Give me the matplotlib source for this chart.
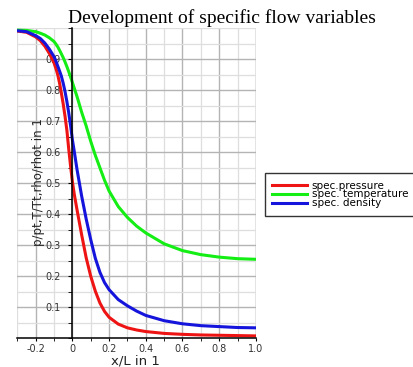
import numpy as np
import matplotlib
matplotlib.use('Agg')
import matplotlib.pyplot as plt
from matplotlib.ticker import MultipleLocator, FixedLocator, FuncFormatter

# x/L positions (denser near the throat where the curves are steep)
x_pos = [-0.30, -0.25, -0.20, -0.175, -0.15, -0.125, -0.10, -0.09, -0.08, -0.07, -0.06, -0.05,
         -0.04, -0.03, -0.02, -0.01, 0.00, 0.01, 0.025, 0.05, 0.075, 0.10, 0.125, 0.15, 0.175,
         0.20, 0.25, 0.30, 0.35, 0.40, 0.50, 0.60, 0.70, 0.80, 0.90, 1.00]

pressure = [0.991, 0.987, 0.972, 0.960, 0.942, 0.918, 0.888, 0.870, 0.850, 0.823, 0.790, 0.755,
            0.715, 0.670, 0.610, 0.555, 0.505, 0.465, 0.415, 0.335, 0.260, 0.200, 0.152, 0.114, 0.087,
            0.068, 0.046, 0.034, 0.027, 0.022, 0.016, 0.013, 0.011, 0.010, 0.009, 0.008]
temperature = [0.994, 0.993, 0.989, 0.984, 0.978, 0.969, 0.957, 0.949, 0.940, 0.929, 0.917, 0.905,
               0.891, 0.876, 0.860, 0.843, 0.825, 0.807, 0.780, 0.730, 0.685, 0.635, 0.590, 0.550, 0.510,
               0.475, 0.425, 0.390, 0.362, 0.340, 0.305, 0.283, 0.270, 0.262, 0.257, 0.255]
density = [0.992, 0.989, 0.976, 0.967, 0.952, 0.932, 0.908, 0.894, 0.878, 0.862, 0.845, 0.822,
           0.795, 0.763, 0.727, 0.686, 0.640, 0.603, 0.545, 0.460, 0.385, 0.318, 0.258, 0.213, 0.180,
           0.157, 0.125, 0.105, 0.088, 0.074, 0.057, 0.047, 0.041, 0.038, 0.035, 0.034]

labels = ['spec.pressure', 'spec. temperature', 'spec. density']
colors = ['#ee1414', '#14ee14', '#1414dc']

x_ticks = [-0.2, 0, 0.2, 0.4, 0.6, 0.8, 1.0]
y_ticks = [0.1, 0.2, 0.3, 0.4, 0.5, 0.6, 0.7, 0.8, 0.9]

fig = plt.figure(figsize=(4.14, 3.67), dpi=100)
ax = fig.add_axes([0.042, 0.078, 0.576, 0.845])

for vals, lab, col in zip([pressure, temperature, density], labels, colors):
    ax.plot(x_pos, vals, color=col, linewidth=2.2, label=lab, solid_joinstyle='round', zorder=3)

ax.set_xlim(-0.3, 1.0)
ax.set_ylim(0, 1.0)

# spines: y axis drawn through x = 0
ax.spines['left'].set_position(('data', 0))
ax.spines['right'].set_visible(False)
ax.spines['top'].set_visible(False)
for s in ['left', 'bottom']:
    ax.spines[s].set_linewidth(1.1)
    ax.spines[s].set_zorder(4)

ax.xaxis.set_major_locator(FixedLocator(x_ticks))
ax.xaxis.set_minor_locator(MultipleLocator(0.1))
ax.yaxis.set_major_locator(FixedLocator(y_ticks))
ax.yaxis.set_minor_locator(MultipleLocator(0.05))
ax.xaxis.set_major_formatter(FuncFormatter(lambda v, p: '0' if abs(v) < 1e-9 else f'{v:.1f}'))

ax.grid(True, which='major', color='#b4b4b4', linewidth=1.0, zorder=0)
ax.grid(True, which='minor', color='#dedede', linewidth=0.9, zorder=0)
# grid line at the right end too
ax.axvline(1.0, color='#b4b4b4', linewidth=1.0, zorder=0)

ax.tick_params(axis='y', which='major', direction='out', length=3, pad=5.5, labelsize=7, labelcolor='#333333')
ax.tick_params(axis='y', which='minor', direction='out', length=3)
ax.tick_params(axis='x', which='major', direction='out', length=2.5, pad=1.5, labelsize=7, labelcolor='#333333')
ax.tick_params(axis='x', which='minor', direction='out', length=2.5)

ax.set_ylabel('p/pt,T/Tt,rho/rhot in 1', fontsize=8.5, color='#222222', va='center')
ax.yaxis.set_label_coords(0.088, 0.503)
ax.set_xlabel('x/L in 1', fontsize=9.5, color='#222222', va='center')
ax.xaxis.set_label_coords(0.493, -0.073)

fig.text(0.535, 0.9365, 'Development of specific flow variables', family='Liberation Serif',
         fontsize=14, ha='center', va='baseline')

leg = ax.legend(loc='upper left', bbox_to_anchor=(0.640, 0.528), bbox_transform=fig.transFigure,
                borderaxespad=0, fontsize=7.5, frameon=True, fancybox=False, handlelength=3.3,
                handletextpad=0.5, labelspacing=-0.1, borderpad=0.7)
leg.get_frame().set_edgecolor('black')
leg.get_frame().set_linewidth(1.0)
for line in leg.get_lines():
    line.set_linewidth(2.2)

fig.savefig('out.png', dpi=100)
